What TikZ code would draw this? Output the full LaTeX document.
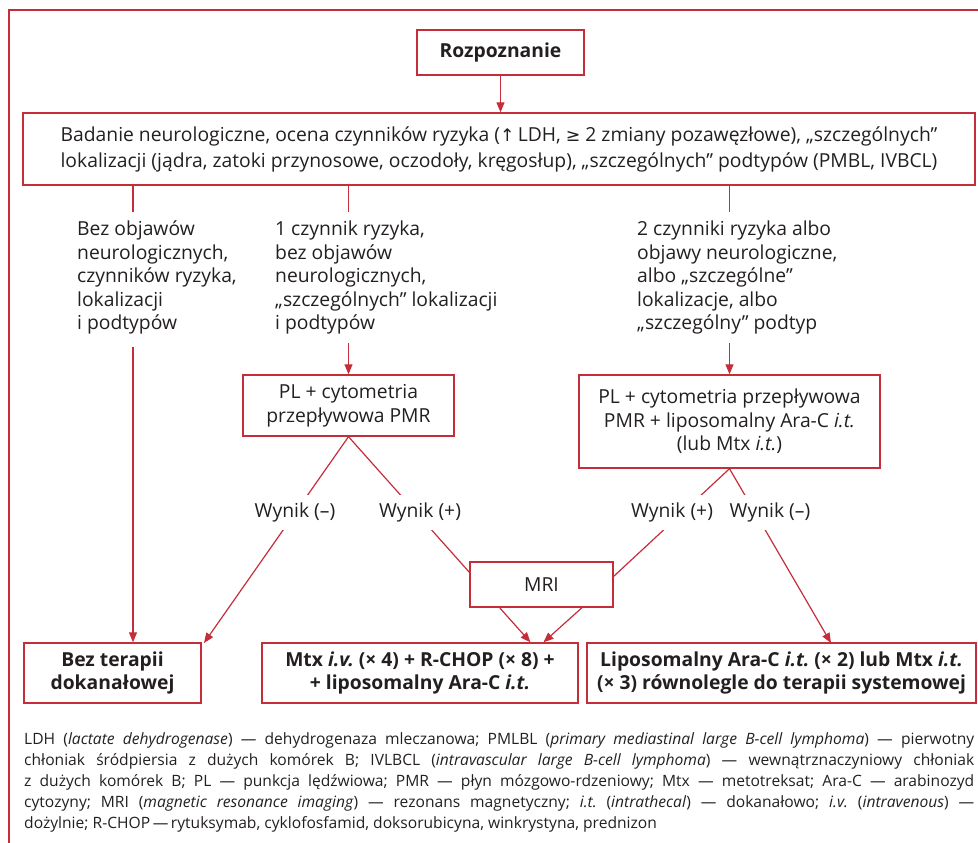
\documentclass[tikz,border=0pt]{standalone}
\usepackage{fontspec}
\setmainfont{Open Sans}
\newfontfamily\djv{DejaVu Sans}[Scale=0.9]
\usetikzlibrary{arrows.meta,calc}
\definecolor{rl}{RGB}{196,46,56}
\definecolor{tx}{RGB}{35,31,32}
\tikzset{
 box/.style={draw=rl, line width=1.4pt, align=center, inner sep=0pt, text=tx, font=\fontsize{19.3}{23.5}\selectfont},
 bbox/.style={box, font=\bfseries\fontsize{19.3}{23}\selectfont},
 conn/.style={draw=rl, line width=1.2pt},
 arr/.style={conn, -{Triangle[length=10pt,width=8pt]}},
 col/.style={anchor=north west, inner sep=0pt, align=left, text=tx, font=\fontsize{19.3}{23.5}\selectfont},
 res/.style={fill=white, inner sep=0pt, minimum height=35pt, text=tx, font=\fontsize{19.3}{23}\selectfont},
}
\begin{document}
\frenchspacing
\begin{tikzpicture}[x=1pt,y=-1pt]
\useasboundingbox (0,0) rectangle (978,843);
\draw[rl, line width=2pt] (8.5,843) -- (8.5,10.5) -- (978,10.5);

\node[bbox, minimum width=167pt, minimum height=45pt] (roz) at (500.5,52.5) {Rozpoznanie};
\node[box, minimum width=952pt, minimum height=72pt, font=\fontsize{19.3}{26}\selectfont] (big) at (499,149) {Badanie neurologiczne, ocena czynników ryzyka ({\djv ↑}\,LDH, {\djv ≥} 2 zmiany pozawęzłowe), „szczególnych”\\lokalizacji (jądra, zatoki przynosowe, oczodoły, kręgosłup), „szczególnych” podtypów (PMBL, IVBCL)};

\node[col] (t1) at (77,221) {Bez objawów\\neurologicznych,\\czynników ryzyka,\\lokalizacji\\i podtypów};
\node[col] (t2) at (275,221) {1 czynnik ryzyka,\\bez objawów\\neurologicznych,\\„szczególnych” lokalizacji\\i podtypów};
\node[col] (t3) at (637,221) {2 czynniki ryzyka albo\\objawy neurologiczne,\\albo „szczególne”\\lokalizacje, albo\\„szczególny” podtyp};

\node[box, minimum width=211pt, minimum height=61pt] (pl1) at (348.5,405.5) {PL + cytometria\\przepływowa PMR};
\node[box, minimum width=301pt, minimum height=93pt] (pl2) at (729.5,421.5) {PL + cytometria przepływowa\\PMR + liposomalny Ara-C \textit{i.t.}\\(lub Mtx \textit{i.t.})};
\node[box, minimum width=143pt, minimum height=45pt] (mri) at (541.5,584.5) {MRI};

\node[bbox, minimum width=177pt, minimum height=60pt] (bez) at (112.5,673) {Bez terapii\\dokanałowej};
\node[bbox, minimum width=316pt, minimum height=60pt] (mtx) at (420,673) {Mtx \textit{i.v.} (× 4) + R-CHOP (× 8) +\\+ liposomalny Ara-C \textit{i.t.}};
\node[bbox, minimum width=389pt, minimum height=60pt] (lip) at (781.5,673) {Liposomalny Ara-C \textit{i.t.} (× 2) lub Mtx \textit{i.t.}\\(× 3) równolegle do terapii systemowej};

\coordinate (a1) at (133,212); \coordinate (b1) at (133,347);
\coordinate (a2) at (348.5,212); \coordinate (b2) at (348.5,343);
\coordinate (a3) at (729.5,212); \coordinate (b3) at (729.5,343);
\coordinate (bezT) at (204,643);
\coordinate (m1) at (470,573);
\coordinate (m2) at (613,577);
\coordinate (lipT) at (831,643);

\draw[arr] (roz.south) -- (roz.south |- big.north);
\draw[conn] (a1 |- big.south) -- (a1);
\draw[conn] (a2 |- big.south) -- (a2);
\draw[conn] (a3 |- big.south) -- (a3);
\draw[arr] (b1) -- (b1 |- bez.north);
\draw[arr] (b2) -- (pl1.north);
\draw[arr] (b3) -- (pl2.north);

\draw[arr] (pl1.south) -- (bezT);
\draw[conn] (pl1.south) -- (m1);
\draw[conn] (pl2.south) -- (m2);
\draw[arr] (pl2.south) -- (lipT);
\draw[arr] ($(mri.south west)!0.21!(mri.south east)$) -- ($(mtx.north west)!0.848!(mtx.north east)$);
\draw[arr] ($(mri.south west)!0.78!(mri.south east)$) -- ($(mtx.north west)!0.889!(mtx.north east)$);

\node[res] (w1m) at (295,512) {Wynik (–)};
\node[res] (w1p) at (420,512) {Wynik (+)};
\node[res] (w2p) at (672,512) {Wynik (+)};
\node[res] (w2m) at (770,512) {Wynik (–)};

\node[anchor=north west, inner sep=0pt, align=left, text=tx, font=\fontsize{15.6}{21}\selectfont] (fn) at (24,732) {%
\makebox[950pt][s]{LDH (\textit{lactate dehydrogenase}) — dehydrogenaza mleczanowa; PMLBL (\textit{primary mediastinal large B-cell lymphoma}) — pierwotny}\\
\makebox[950pt][s]{chłoniak śródpiersia z dużych komórek B; IVLBCL (\textit{intravascular large B-cell lymphoma}) — wewnątrznaczyniowy chłoniak}\\
\makebox[950pt][s]{z dużych komórek B; PL — punkcja lędźwiowa; PMR — płyn mózgowo-rdzeniowy; Mtx — metotreksat; Ara-C — arabinozyd}\\
\makebox[950pt][s]{cytozyny; MRI (\textit{magnetic resonance imaging}) — rezonans magnetyczny; \textit{i.t.} (\textit{intrathecal}) — dokanałowo; \textit{i.v.} (\textit{intravenous}) —}\\
dożylnie; R-CHOP\,—\,rytuksymab, cyklofosfamid, doksorubicyna, winkrystyna, prednizon};
\end{tikzpicture}
\end{document}
